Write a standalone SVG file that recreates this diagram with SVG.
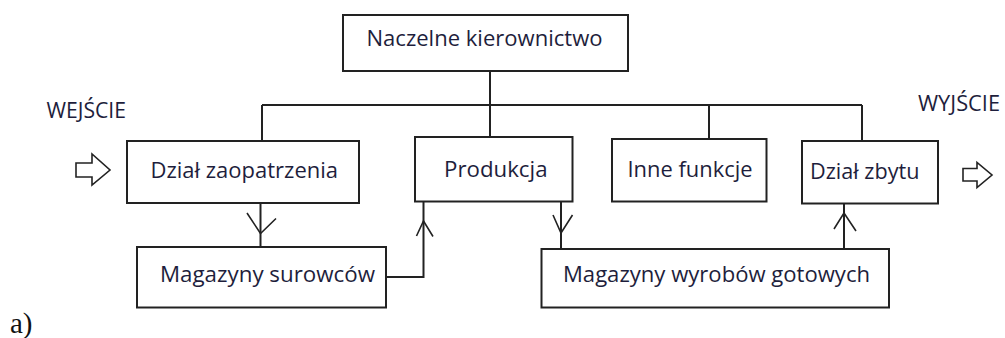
<svg xmlns="http://www.w3.org/2000/svg" width="1005" height="338" viewBox="0 0 1005 338">
<style>
.box{fill:#fff;stroke:#222;stroke-width:2}
.ln{fill:none;stroke:#222;stroke-width:2}
.ah{fill:none;stroke:#222;stroke-width:1.6}
.t{font-family:"Open Sans","Noto Sans","DejaVu Sans",sans-serif;font-size:21px;fill:#1e1e3c}
.hollow{fill:#fff;stroke:#222;stroke-width:1.6;stroke-linejoin:miter}
</style>
<rect width="1005" height="338" fill="#fff"/>
<g id="connectors">
<path class="ln" d="M490,71 V137 M262,105 H862 M262,105 V141 M709,105 V139 M862,105 V141"/>
<path class="ln" d="M260.5,203 V247"/>
<path class="ah" d="M247,213 L260.5,233.5 L276,218.5"/>
<path class="ln" d="M386,277 H423.5 V201"/>
<path class="ah" d="M416.5,236 L423.5,221 L433,236.5"/>
<path class="ln" d="M561,201 V249"/>
<path class="ah" d="M553,215 L561,233 L572.5,215"/>
<path class="ln" d="M844,249 V203"/>
<path class="ah" d="M834,229 L844,213 L856,231"/>
</g>
<g id="input-arrow"><polygon class="hollow" points="76,163 92,163 92,154 110,170 92,185 92,177 76,177"/></g>
<g id="output-arrow"><polygon class="hollow" points="963,168.5 977,168.5 977,162.5 992,175 977,187.5 977,181 963,181"/></g>
<g id="naczelne"><rect class="box" x="343" y="15" width="285" height="56"/><text class="t" x="366.5" y="46" textLength="236" lengthAdjust="spacingAndGlyphs">Naczelne kierownictwo</text></g>
<g id="zaopatrzenie"><rect class="box" x="127" y="141" width="232" height="62"/><text class="t" x="150.5" y="177.5" textLength="187.5" lengthAdjust="spacingAndGlyphs">Dział zaopatrzenia</text></g>
<g id="produkcja"><rect class="box" x="415" y="137" width="157.5" height="64.5"/><text class="t" x="444" y="176.5" textLength="103.5" lengthAdjust="spacingAndGlyphs">Produkcja</text></g>
<g id="inne"><rect class="box" x="612" y="139" width="154.5" height="62.5"/><text class="t" x="627.5" y="176.5" textLength="125" lengthAdjust="spacingAndGlyphs">Inne funkcje</text></g>
<g id="zbyt"><rect class="box" x="802" y="141" width="136" height="62.5"/><text class="t" x="810" y="179" textLength="109.5" lengthAdjust="spacingAndGlyphs">Dział zbytu</text></g>
<g id="surowce"><rect class="box" x="137" y="247" width="249" height="60.5"/><text class="t" x="160" y="281.5" textLength="215" lengthAdjust="spacingAndGlyphs">Magazyny surowców</text></g>
<g id="wyroby"><rect class="box" x="541.5" y="249" width="347.5" height="58.5"/><text class="t" x="563" y="281.5" textLength="307" lengthAdjust="spacingAndGlyphs">Magazyny wyrobów gotowych</text></g>
<g id="labels">
<text class="t" x="46.5" y="117.5" textLength="79.5" lengthAdjust="spacingAndGlyphs">WEJŚCIE</text>
<text class="t" x="918" y="110.5" textLength="82" lengthAdjust="spacingAndGlyphs">WYJŚCIE</text>
<text x="10" y="333" font-family="'Liberation Serif','Times New Roman',serif" font-size="29" fill="#111">a)</text>
</g>
</svg>
